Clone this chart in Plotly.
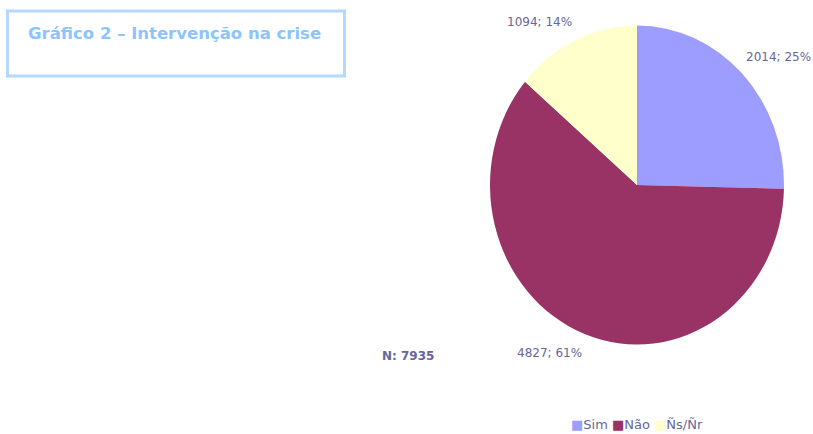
import math
import plotly.graph_objects as go

categories = ["Sim", "Não", "Ñs/Ñr"]
values = [2014, 4827, 1094]
colors = ["#9D9DFF", "#993366", "#FFFFCC"]
total_label = "N: 7935"
title_text = "Gráfico 2 – Intervenção na crise"

W, H = 813, 434
cx, cy, r = 637, 185, 153
label_a, label_b = 150, 170  # label anchor distance from centre (px)

fig = go.Figure(go.Pie(
    labels=categories,
    values=values,
    marker=dict(colors=colors, line=dict(width=0)),
    sort=False,
    direction="clockwise",
    rotation=0,
    textinfo="none",
    domain=dict(x=[(cx - r) / W, (cx + r) / W], y=[(H - cy - r) / H, (H - cy + r) / H]),
    hoverinfo="label+value+percent",
    showlegend=False,
))

total = sum(values)
annotations = []
cum = 0
for lab, v in zip(categories, values):
    mid = (cum + v / 2) / total * 2 * math.pi
    cum += v
    s, c = math.sin(mid), math.cos(mid)
    px = cx + s * label_a
    py = cy - c * label_b
    annotations.append(dict(
        text=f"{v}; {round(v / total * 100)}%", xref="paper", yref="paper",
        x=px / W, y=1 - py / H,
        xanchor="left" if s >= 0 else "right",
        yanchor="bottom" if c >= 0 else "top",
        showarrow=False,
        font=dict(family="DejaVu Sans", size=12, color="#666699"),
    ))

legend_html = "".join(
    f'<span style="color:{c}">■</span>{lab} ' for lab, c in zip(categories, colors)
).strip()
annotations.append(dict(
    text=legend_html, xref="paper", yref="paper",
    x=569 / W, y=1 - 424 / H, xanchor="left", yanchor="middle", showarrow=False,
    font=dict(family="DejaVu Sans", size=13, color="#666699"),
))

annotations.append(dict(
    text="<b>" + title_text + "</b>", xref="paper", yref="paper",
    x=26 / W, y=1 - 33 / H, xanchor="left", yanchor="middle",
    showarrow=False, font=dict(family="DejaVu Sans", size=16.5, color="#8CC4FF"),
))
annotations.append(dict(
    text="<b>" + total_label + "</b>", xref="paper", yref="paper",
    x=380 / W, y=1 - 356 / H, xanchor="left", yanchor="middle",
    showarrow=False, font=dict(family="DejaVu Sans", size=12, color="#666699"),
))

fig.update_layout(
    width=W, height=H,
    margin=dict(l=0, r=0, t=0, b=0),
    paper_bgcolor="white",
    plot_bgcolor="white",
    showlegend=False,
    shapes=[dict(
        type="rect", xref="paper", yref="paper",
        x0=7.5 / W, x1=344.5 / W, y0=1 - 76 / H, y1=1 - 11 / H,
        line=dict(color="#B3D9FF", width=3),
    )],
    annotations=annotations,
)

# remove default page margin; stretch the pie slightly into the reference's oval shape
post = f"""
document.body.style.margin='0';
var pl = document.querySelector('.pielayer');
if (pl) {{
  pl.style.transformOrigin = '{cx}px {cy}px';
  pl.style.transform = 'scale({147/r:.4f}, {159.5/r:.4f})';
}}
"""

fig.write_html("out.html", config={"displayModeBar": False}, post_script=post)
